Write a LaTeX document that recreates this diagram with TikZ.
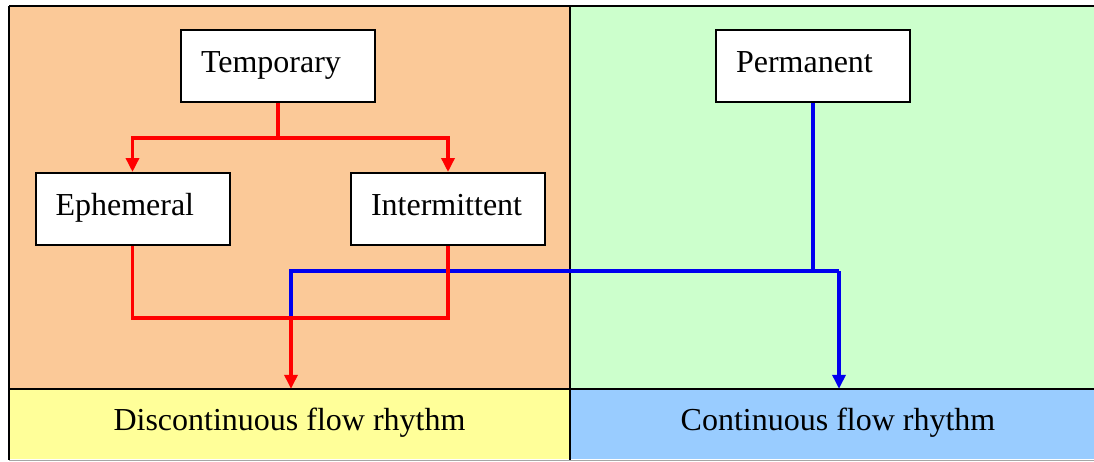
\documentclass[tikz,border=0pt]{standalone}
\usepackage{fontspec}
\setmainfont{Liberation Serif}
\usetikzlibrary{arrows.meta}
\definecolor{orangebg}{RGB}{251,201,152}
\definecolor{greenbg}{RGB}{204,255,204}
\definecolor{yellowbg}{RGB}{255,255,153}
\definecolor{bluebg}{RGB}{153,204,255}
\definecolor{redln}{RGB}{255,0,0}
\definecolor{blueln}{RGB}{0,0,238}
\newcommand{\labfont}{\fontsize{32}{36}\selectfont}
\begin{document}
\begin{tikzpicture}[x=1pt,y=-1pt,
  box/.style={draw=black, line width=2pt, fill=white, minimum height=72pt,
    text width=154pt, inner xsep=20pt, inner ysep=0pt, align=left,
    text height=21pt, text depth=9pt, font=\labfont},
  cell/.style={draw=none, minimum height=70pt, inner sep=0pt,
    text height=21pt, text depth=9pt, font=\labfont},
  frame/.style={draw=black, line width=2pt},
  redline/.style={draw=redln, line width=3.4pt},
  redarrow/.style={redline, -{Triangle[length=14pt,width=13pt]}},
  blueline/.style={draw=blueln, line width=3.4pt},
  bluearrow/.style={blueline, -{Triangle[length=14pt,width=13pt]}}]
\useasboundingbox (0,0) rectangle (1094,461);
% backgrounds
\fill[orangebg] (9,6) rectangle (570,389);
\fill[greenbg] (570,6) rectangle (1094,389);
\node[cell, fill=yellowbg, minimum width=561pt] (disc) at (289.5,424) {Discontinuous flow rhythm};
\node[cell, fill=bluebg, minimum width=524pt] (cont) at (832,424) {\hspace*{12pt}Continuous flow rhythm};
% frame lines
\draw[frame] (9,6) -- (1094,6);
\draw[frame] (9,6) -- (9,460);
\draw[frame] (570,6) -- (570,460);
\draw[frame] (9,389) -- (1094,389);
\draw[draw=gray!70, line width=1pt] (9,460) -- (1094,460);
% boxes
\node[box] (temp) at (278,66) {Temporary};
\node[box] (eph) at (132.5,209) {Ephemeral};
\node[box] (int) at (448,209) {Intermittent};
\node[box] (perm) at (813,66) {Permanent};
% coordinates
\coordinate (rj) at (278,138);
\coordinate (rl) at (291,318);
\coordinate (bj) at (813,271);
\coordinate (br) at (839,271);
% blue connectors
\draw[blueline] (perm.south) -- (bj);
\draw[blueline] (rl) |- (br);
\draw[bluearrow] (br) -- (br |- cont.north);
% red connectors
\draw[redline] (temp.south) -- (rj);
\draw[redarrow] (rj) -| (eph.north);
\draw[redarrow] (rj) -| (int.north);
\draw[redline] (eph.south) |- (rl) -| (int.south);
\draw[redarrow] (rl) -- (rl |- disc.north);
\end{tikzpicture}
\end{document}
